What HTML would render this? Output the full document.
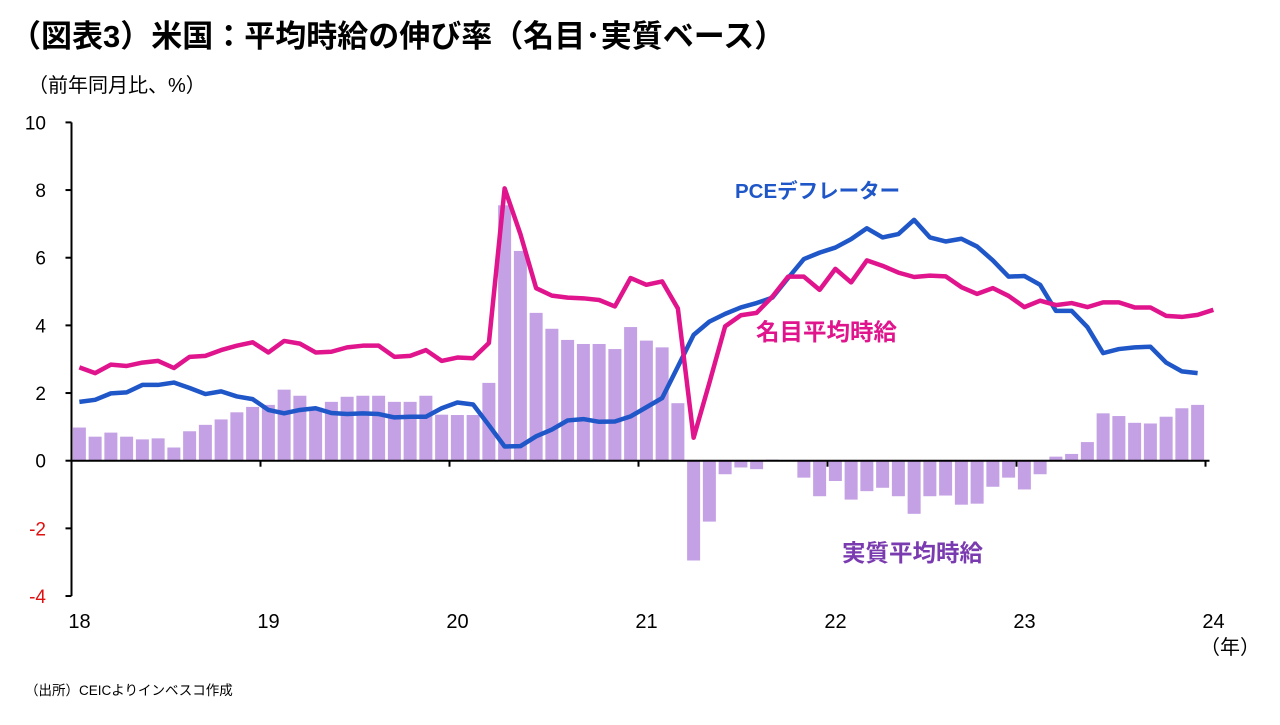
<!DOCTYPE html>
<html><head><meta charset="utf-8">
<style>
body{margin:0;background:#fff;width:1280px;height:720px;overflow:hidden;font-family:"Liberation Sans","Noto Sans CJK JP",sans-serif;}
svg text{font-family:"Liberation Sans","Noto Sans CJK JP",sans-serif;}
</style></head>
<body>
<svg id="chart" width="1280" height="720" xmlns="http://www.w3.org/2000/svg">
<text x="10" y="47" font-size="31" font-weight="bold" fill="#000">（図表3）米国：平均時給の伸び率（名目･実質ベース）</text>
<text x="28" y="92" font-size="20" fill="#000">（前年同月比、%）</text>
<g id="bars"></g>
<g id="axes"></g>
<polyline id="pce" fill="none" stroke="#1f56c8" stroke-width="4.5" stroke-linejoin="round"/>
<polyline id="nom" fill="none" stroke="#e0148c" stroke-width="4.5" stroke-linejoin="round"/>
<text x="735" y="198" font-size="20.5" font-weight="bold" fill="#1f56c8">PCEデフレーター</text>
<text x="756" y="340" font-size="23.5" font-weight="bold" fill="#e0148c">名目平均時給</text>
<text x="842" y="561" font-size="23.5" font-weight="bold" fill="#7a3bb0">実質平均時給</text>
<text x="1200" y="654" font-size="20" fill="#000">（年）</text>
<text x="25" y="695" font-size="13.5" fill="#000">（出所）CEICよりインベスコ作成</text>
</svg>
<script>
const yearLabels=["18","19","20","21","22","23","24"];
const yTicks=[10,8,6,4,2,0,-2,-4];
const realWage=[0.98,0.71,0.83,0.71,0.63,0.66,0.39,0.87,1.06,1.22,1.43,1.59,
1.65,2.1,1.92,1.57,1.74,1.89,1.92,1.92,1.74,1.74,1.92,1.36,
1.35,1.35,2.3,7.55,6.2,4.37,3.9,3.57,3.45,3.45,3.3,3.95,
3.55,3.35,1.7,-2.95,-1.8,-0.4,-0.2,-0.25,0.03,0,-0.5,-1.05,
-0.6,-1.15,-0.9,-0.8,-1.05,-1.57,-1.05,-1.03,-1.3,-1.27,-0.77,-0.5,
-0.85,-0.4,0.12,0.2,0.55,1.4,1.32,1.12,1.1,1.3,1.55,1.65];
const nominalWage=[2.76,2.59,2.84,2.8,2.9,2.95,2.74,3.07,3.1,3.27,3.4,3.5,
3.2,3.54,3.46,3.2,3.22,3.35,3.4,3.4,3.07,3.1,3.27,2.95,
3.05,3.03,3.48,8.05,6.7,5.1,4.88,4.82,4.8,4.75,4.56,5.4,
5.2,5.3,4.5,0.68,2.3,3.97,4.3,4.37,4.85,5.44,5.44,5.05,
5.67,5.27,5.92,5.76,5.56,5.43,5.47,5.45,5.13,4.93,5.1,4.87,
4.54,4.73,4.6,4.66,4.54,4.68,4.68,4.53,4.53,4.28,4.25,4.31,4.46];
const pceDeflator=[1.74,1.8,1.99,2.02,2.24,2.24,2.31,2.15,1.97,2.05,1.9,1.82,
1.5,1.4,1.5,1.55,1.41,1.38,1.4,1.38,1.28,1.3,1.3,1.55,
1.72,1.66,1.05,0.42,0.43,0.72,0.92,1.19,1.23,1.15,1.16,1.31,
1.58,1.85,2.78,3.72,4.11,4.34,4.53,4.66,4.82,5.4,5.96,6.15,
6.3,6.55,6.87,6.6,6.7,7.12,6.6,6.48,6.56,6.33,5.92,5.44,
5.46,5.2,4.43,4.43,3.95,3.18,3.3,3.35,3.37,2.9,2.64,2.59];
const NS="http://www.w3.org/2000/svg";
const X0=71.5, MW=15.75, Y0=460.7, YS=33.83;
function xm(i){return X0+MW*(i+0.5);}
function yv(v){return Y0-YS*v;}
function mk(tag,attrs,parent){const e=document.createElementNS(NS,tag);for(const k in attrs)e.setAttribute(k,attrs[k]);parent.appendChild(e);return e;}
const bars=document.getElementById('bars');
realWage.forEach((v,i)=>{
 const r=mk('rect',{x:xm(i)-6.5,y:Math.min(yv(v),Y0),width:13,height:Math.abs(yv(v)-Y0),fill:'#c4a0e4'},bars);
 
 
});
const ax=document.getElementById('axes');
let e=mk('line',{x1:X0,y1:yv(10),x2:X0,y2:yv(-4),stroke:'#000','stroke-width':2},ax);


e=mk('line',{x1:X0,y1:Y0,x2:X0+MW*72+4,y2:Y0,stroke:'#000','stroke-width':2},ax);


yTicks.forEach(t=>{
 mk('line',{x1:X0-6,y1:yv(t),x2:X0,y2:yv(t),stroke:'#000','stroke-width':2},ax);
 const tx=mk('text',{x:46,y:yv(t)+7,'font-size':19,'text-anchor':'end',fill:t<0?'#e01010':'#000'},ax);
 tx.textContent=String(t);
 
 
});
yearLabels.forEach((l,k)=>{
 const x=X0+MW*12*k;
 mk('line',{x1:x,y1:Y0,x2:x,y2:Y0+6,stroke:'#000','stroke-width':2},ax);
 const tx=mk('text',{x:x+8,y:628,'font-size':20,'text-anchor':'middle',fill:'#000'},ax);
 tx.textContent=l;
 
 
});
document.getElementById('nom').setAttribute('points',nominalWage.map((v,i)=>xm(i)+','+yv(v)).join(' '));
document.getElementById('pce').setAttribute('points',pceDeflator.map((v,i)=>xm(i)+','+yv(v)).join(' '));
</script>
</body></html>
